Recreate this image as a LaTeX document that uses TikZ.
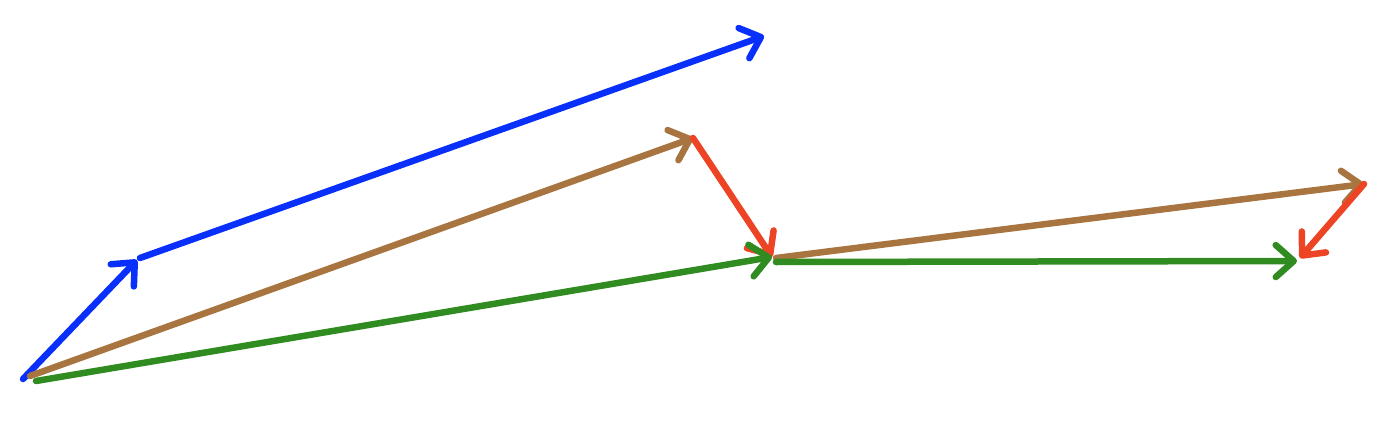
\documentclass[tikz,border=0pt]{standalone}
\usetikzlibrary{arrows.meta}
\definecolor{vblue}{RGB}{8,48,250}
\definecolor{vbrown}{RGB}{168,116,64}
\definecolor{vred}{RGB}{236,68,36}
\definecolor{vgreen}{RGB}{48,140,32}
\begin{document}
\begin{tikzpicture}[x=1pt,y=-1pt,
  vec/.style={line width=6.5pt,line cap=round,
    -{Straight Barb[length=18pt,width=32pt,line width=6.5pt,line cap=round,round]}}]
\useasboundingbox (0,0) rectangle (1386,428);
\coordinate (O1) at (23,379);
\coordinate (O2) at (30,376);
\coordinate (O3) at (36,381);
\coordinate (B1) at (137,260);
\coordinate (B2) at (140,258);
\coordinate (B3) at (764,36);
\coordinate (T1) at (693,138);
\coordinate (M) at (772,257);
\coordinate (M2) at (776,258);
\coordinate (M3) at (776,262);
\coordinate (T2) at (1364,184);
\coordinate (E) at (1300,258);
\coordinate (E2) at (1297,261);
\draw[vec,vblue] (O1) -- (B1);
\draw[vec,vblue] (B2) -- (B3);
\draw[vec,vbrown] (O2) -- (T1);
\draw[vec,vred] (T1) -- (M);
\draw[vec,vgreen] (O3) -- (M);
\draw[vec,vbrown] (M2) -- (T2);
\draw[vec,vred] (T2) -- (E);
\draw[vec,vgreen] (M3) -- (E2);
\end{tikzpicture}
\end{document}
